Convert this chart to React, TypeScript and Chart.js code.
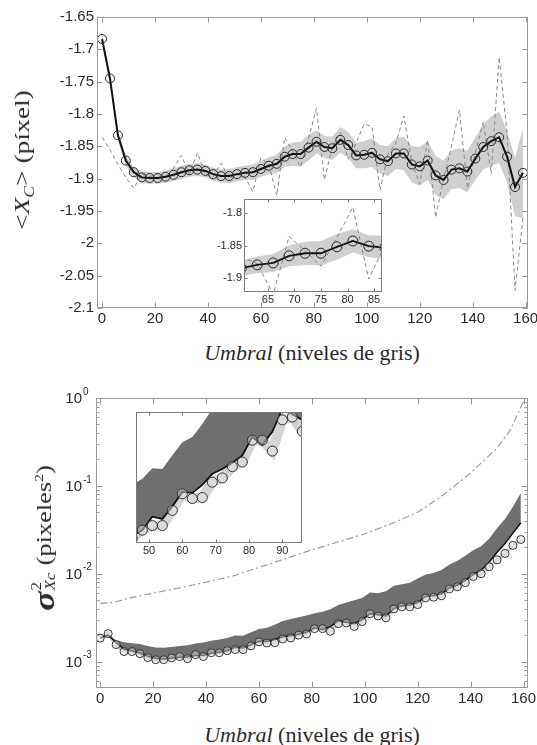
import React, { useEffect, useRef } from 'react';
import { Chart, registerables } from 'chart.js';

Chart.register(...registerables);

// ---------- data ----------
const umbral = [0, 3, 6, 9, 12, 15, 18, 21, 24, 27, 30, 33, 36, 39, 42, 45, 48, 51, 54, 57, 60, 63, 66, 69, 72, 75, 78, 81, 84, 87, 90, 93, 96, 99, 102, 105, 108, 111, 114, 117, 120, 123, 126, 129, 132, 135, 138, 141, 144, 147, 150, 153, 156, 159];

// top panel: mean <Xc>
const meanXc = [-1.684, -1.745, -1.833, -1.872, -1.890, -1.898, -1.899, -1.899, -1.897, -1.894, -1.890, -1.887, -1.886, -1.888, -1.893, -1.896, -1.896, -1.893, -1.891, -1.890, -1.885, -1.880, -1.877, -1.866, -1.862, -1.862, -1.852, -1.843, -1.851, -1.853, -1.840, -1.848, -1.864, -1.863, -1.860, -1.870, -1.873, -1.861, -1.861, -1.878, -1.881, -1.872, -1.895, -1.902, -1.886, -1.884, -1.889, -1.869, -1.851, -1.842, -1.836, -1.866, -1.913, -1.891];
// top panel: single-image (dashed) estimate
const rawXc = [-1.836, -1.855, -1.878, -1.898, -1.915, -1.893, -1.897, -1.892, -1.897, -1.884, -1.864, -1.893, -1.860, -1.893, -1.897, -1.876, -1.900, -1.893, -1.898, -1.920, -1.868, -1.878, -1.926, -1.836, -1.858, -1.882, -1.838, -1.791, -1.902, -1.850, -1.828, -1.870, -1.845, -1.815, -1.820, -1.918, -1.862, -1.845, -1.803, -1.875, -1.908, -1.840, -1.960, -1.900, -1.850, -1.794, -1.915, -1.860, -1.812, -1.892, -1.712, -1.830, -2.073, -1.960];
// top panel: half width of grey band
const bandHalf = [0.006, 0.006, 0.007, 0.008, 0.008, 0.009, 0.009, 0.009, 0.009, 0.010, 0.010, 0.010, 0.010, 0.010, 0.010, 0.010, 0.011, 0.011, 0.011, 0.012, 0.012, 0.013, 0.014, 0.016, 0.018, 0.019, 0.020, 0.018, 0.017, 0.018, 0.020, 0.020, 0.020, 0.021, 0.022, 0.022, 0.023, 0.024, 0.026, 0.028, 0.030, 0.030, 0.030, 0.030, 0.030, 0.031, 0.032, 0.033, 0.035, 0.038, 0.040, 0.040, 0.045, 0.070];

// bottom panel: variance (circles)
const varPoints = [1.85e-3, 2.08e-3, 1.56e-3, 1.30e-3, 1.30e-3, 1.23e-3, 1.11e-3, 1.05e-3, 1.05e-3, 1.10e-3, 1.14e-3, 1.08e-3, 1.20e-3, 1.14e-3, 1.26e-3, 1.26e-3, 1.33e-3, 1.37e-3, 1.37e-3, 1.51e-3, 1.68e-3, 1.63e-3, 1.64e-3, 1.81e-3, 1.86e-3, 2.00e-3, 2.06e-3, 2.37e-3, 2.37e-3, 2.21e-3, 2.70e-3, 2.75e-3, 2.51e-3, 2.85e-3, 3.50e-3, 3.30e-3, 3.15e-3, 3.97e-3, 4.20e-3, 4.20e-3, 4.45e-3, 5.30e-3, 5.40e-3, 5.60e-3, 6.70e-3, 7.10e-3, 7.90e-3, 9.30e-3, 1.00e-2, 1.20e-2, 1.44e-2, 1.70e-2, 2.10e-2, 2.45e-2];
// bottom panel: black line
const varLine = [1.85e-3, 2.00e-3, 1.65e-3, 1.38e-3, 1.32e-3, 1.25e-3, 1.15e-3, 1.08e-3, 1.07e-3, 1.09e-3, 1.12e-3, 1.13e-3, 1.17e-3, 1.18e-3, 1.24e-3, 1.28e-3, 1.33e-3, 1.45e-3, 1.43e-3, 1.55e-3, 1.70e-3, 1.69e-3, 1.78e-3, 1.91e-3, 1.97e-3, 2.05e-3, 2.15e-3, 2.42e-3, 2.30e-3, 2.50e-3, 2.90e-3, 2.80e-3, 2.70e-3, 3.00e-3, 3.50e-3, 3.40e-3, 3.30e-3, 4.00e-3, 4.30e-3, 4.40e-3, 4.70e-3, 5.50e-3, 5.60e-3, 5.90e-3, 6.90e-3, 7.40e-3, 8.40e-3, 9.80e-3, 1.10e-2, 1.35e-2, 1.75e-2, 2.20e-2, 2.90e-2, 3.80e-2];
// bottom panel: upper edge of dark band
const varUpper = [1.85e-3, 2.00e-3, 1.75e-3, 1.66e-3, 1.62e-3, 1.58e-3, 1.50e-3, 1.45e-3, 1.44e-3, 1.46e-3, 1.50e-3, 1.53e-3, 1.60e-3, 1.65e-3, 1.72e-3, 1.78e-3, 1.85e-3, 1.98e-3, 1.97e-3, 2.15e-3, 2.34e-3, 2.42e-3, 2.63e-3, 2.90e-3, 3.05e-3, 3.20e-3, 3.35e-3, 3.55e-3, 3.70e-3, 3.95e-3, 4.40e-3, 4.70e-3, 5.00e-3, 5.30e-3, 6.10e-3, 6.00e-3, 6.30e-3, 7.30e-3, 7.60e-3, 7.90e-3, 8.80e-3, 9.80e-3, 1.02e-2, 1.10e-2, 1.27e-2, 1.40e-2, 1.60e-2, 1.85e-2, 2.05e-2, 2.50e-2, 3.30e-2, 4.20e-2, 5.80e-2, 8.30e-2];
// bottom panel: dash-dot reference curve
const refX = [0, 5, 10, 20, 30, 40, 50, 60, 70, 80, 90, 100, 110, 120, 130, 140, 150, 155, 160];
const refVar = [4.6e-3, 4.7e-3, 5.2e-3, 6.0e-3, 6.9e-3, 8.0e-3, 9.4e-3, 1.18e-2, 1.48e-2, 1.87e-2, 2.3e-2, 2.85e-2, 3.7e-2, 5.0e-2, 8.0e-2, 0.14, 0.27, 0.43, 0.92];

// ticks
const xTicks = [0, 20, 40, 60, 80, 100, 120, 140, 160];
const topYTicks = [-2.1, -2.05, -2, -1.95, -1.9, -1.85, -1.8, -1.75, -1.7, -1.65];
const topInsetXTicks = [65, 70, 75, 80, 85];
const topInsetYTicks = [-1.9, -1.85, -1.8];
const botYTicks = [0.001, 0.01, 0.1, 1];
const botInsetXTicks = [50, 60, 70, 80, 90];

// ---------- helpers ----------
const SANS = '"Liberation Sans", Arial, sans-serif';
const SERIF = '"Liberation Serif", "Times New Roman", serif';

const pts = (xs: number[], ys: number[]) => xs.map((x, i) => ({ x, y: ys[i] }));

const framePlugin = {
  id: 'frame',
  beforeDraw(chart: any, _a: any, o: any) {
    if (o && o.bg) {
      const { ctx, chartArea: a } = chart;
      ctx.save();
      ctx.fillStyle = '#ffffff';
      ctx.fillRect(a.left, a.top, a.right - a.left, a.bottom - a.top);
      ctx.restore();
    }
  },
  afterDraw(chart: any, _a: any, o: any) {
    const { ctx, chartArea: a, scales } = chart;
    const xS = scales.x;
    const yS = scales.y;
    ctx.save();
    ctx.strokeStyle = o.color || '#999';
    ctx.lineWidth = 1;
    const L = Math.round(a.left) + 0.5;
    const R = Math.round(a.right) - 0.5;
    const T = Math.round(a.top) + 0.5;
    const B = Math.round(a.bottom) - 0.5;
    ctx.strokeRect(L, T, R - L, B - T);
    const tl = o.tick || 5;
    ctx.beginPath();
    for (const t of xS.ticks) {
      const p = Math.round(xS.getPixelForValue(t.value)) + 0.5;
      ctx.moveTo(p, B); ctx.lineTo(p, B - tl);
      ctx.moveTo(p, T); ctx.lineTo(p, T + tl);
    }
    if (!o.noY) {
      for (const t of yS.ticks) {
        const p = Math.round(yS.getPixelForValue(t.value)) + 0.5;
        ctx.moveTo(L, p); ctx.lineTo(L + tl, p);
        ctx.moveTo(R, p); ctx.lineTo(R - tl, p);
      }
    }
    if (o.minor) {
      for (let k = -5; k <= 0; k++) {
        for (let m = 2; m <= 9; m++) {
          const v = m * Math.pow(10, k);
          if (v <= yS.min || v >= yS.max) continue;
          const p = Math.round(yS.getPixelForValue(v)) + 0.5;
          ctx.moveTo(L, p); ctx.lineTo(L + 3, p);
          ctx.moveTo(R, p); ctx.lineTo(R - 3, p);
        }
      }
    }
    ctx.stroke();
    if (o.logLabels) {
      ctx.fillStyle = '#2a2a2a';
      for (const t of yS.ticks) {
        const p = yS.getPixelForValue(t.value);
        const e = Math.round(Math.log10(t.value));
        ctx.font = `15px ${SANS}`;
        ctx.textAlign = 'right';
        ctx.textBaseline = 'middle';
        ctx.fillText('10', a.left - 14, p + 1);
        ctx.font = `10px ${SANS}`;
        ctx.textAlign = 'left';
        ctx.fillText(String(e), a.left - 13, p - 6);
      }
    }
    ctx.restore();
  },
};

function axis(type: string, min: number, max: number, tickVals: number[], size: number, fontSize: number, isX: boolean, showLabels: boolean, pad: number) {
  return {
    type,
    min,
    max,
    afterBuildTicks: (s: any) => { s.ticks = tickVals.map((v) => ({ value: v })); },
    afterFit: (s: any) => { if (isX) s.height = size; else s.width = size; },
    grid: { display: false, drawTicks: false },
    border: { display: false },
    ticks: {
      display: showLabels,
      autoSkip: false,
      maxRotation: 0,
      minRotation: 0,
      padding: pad,
      color: '#2a2a2a',
      font: { family: SANS, size: fontSize },
      callback: (v: any) => String(v),
    },
  };
}

function baseOptions(padTop: number, padRight: number, x: any, y: any, frame: any) {
  return {
    responsive: false,
    animation: false,
    devicePixelRatio: 1,
    events: [],
    layout: { padding: { top: padTop, right: padRight, left: 0, bottom: 0 } },
    plugins: { legend: { display: false }, tooltip: { enabled: false }, frame },
    scales: { x, y },
  };
}

function topDatasets(inset: boolean) {
  return [
    { data: pts(umbral, meanXc.map((m, i) => m + bandHalf[i])), borderWidth: 0, pointRadius: 0, fill: '+1', backgroundColor: '#cfcfcf', order: 10 },
    { data: pts(umbral, meanXc.map((m, i) => m - bandHalf[i])), borderWidth: 0, pointRadius: 0, fill: false, order: 11 },
    { data: pts(umbral, rawXc), borderColor: '#888888', borderWidth: 1, borderDash: [4, 3], pointRadius: 0, fill: false, order: 5 },
    { data: pts(umbral, meanXc), borderColor: '#111111', borderWidth: inset ? 1.8 : 2, pointRadius: inset ? 5 : 4.5, pointBorderColor: '#2a2a2a', pointBackgroundColor: 'rgba(0,0,0,0)', pointBorderWidth: 1, fill: false, order: 1 },
  ];
}

function botDatasets(inset: boolean) {
  return [
    { data: pts(umbral, varUpper), borderWidth: 0, pointRadius: 0, fill: '+1', backgroundColor: '#6f6f6f', order: 10 },
    { data: pts(umbral, varLine), borderColor: '#111111', borderWidth: inset ? 1.8 : 1.5, pointRadius: 0, fill: false, order: 2 },
    { data: pts(umbral, varPoints), borderColor: '#d4d4d4', borderWidth: inset ? 10 : 4, pointRadius: 0, fill: false, order: 12 },
    { data: pts(umbral, varPoints), showLine: false, pointRadius: inset ? 5 : 4, pointBorderColor: '#333333', pointBackgroundColor: 'rgba(230,230,230,0.45)', pointBorderWidth: 1, fill: false, order: 1 },
    { data: pts(refX, refVar), borderColor: '#9a9a9a', borderWidth: 1.2, borderDash: [7, 3, 2, 3], pointRadius: 0, fill: false, order: 5 },
  ];
}

export default function App() {
  const topRef = useRef<HTMLCanvasElement>(null);
  const topInsetRef = useRef<HTMLCanvasElement>(null);
  const botRef = useRef<HTMLCanvasElement>(null);
  const botInsetRef = useRef<HTMLCanvasElement>(null);

  useEffect(() => {
    const charts: Chart[] = [];
    charts.push(new Chart(topRef.current as HTMLCanvasElement, {
      type: 'line',
      data: { datasets: topDatasets(false) as any },
      options: baseOptions(17, 32,
        axis('linear', -1.9, 160.9, xTicks, 22, 15, true, true, 2),
        axis('linear', -2.1, -1.65, topYTicks, 97, 15, false, true, 3),
        { color: '#9a9a9a', tick: 5 }) as any,
      plugins: [framePlugin as any],
    }));
    charts.push(new Chart(topInsetRef.current as HTMLCanvasElement, {
      type: 'line',
      data: { datasets: topDatasets(true) as any },
      options: baseOptions(10, 10,
        axis('linear', 60.5, 86.5, topInsetXTicks, 16, 11, true, true, 1),
        axis('linear', -1.922, -1.778, topInsetYTicks, 34, 11, false, true, 2),
        { color: '#7a7a7a', tick: 3, bg: true }) as any,
      plugins: [framePlugin as any],
    }));
    charts.push(new Chart(botRef.current as HTMLCanvasElement, {
      type: 'line',
      data: { datasets: botDatasets(false) as any },
      options: baseOptions(28, 32,
        axis('linear', -1.6, 161.7, xTicks, 22, 15, true, true, 2),
        axis('logarithmic', 5e-4, 1, botYTicks, 96, 15, false, false, 3),
        { color: '#9a9a9a', tick: 6, minor: true, logLabels: true }) as any,
      plugins: [framePlugin as any],
    }));
    charts.push(new Chart(botInsetRef.current as HTMLCanvasElement, {
      type: 'line',
      data: { datasets: botDatasets(true) as any },
      options: baseOptions(10, 10,
        axis('linear', 46.1, 95.9, botInsetXTicks, 19, 11, true, true, 1),
        axis('logarithmic', 1.225e-3, 2.84e-3, [0.002], 4, 11, false, false, 0),
        { color: '#7a7a7a', tick: 3, bg: true, noY: true }) as any,
      plugins: [framePlugin as any],
    }));
    return () => { charts.forEach((c) => c.destroy()); };
  }, []);

  const abs = (left: number, top: number, w: number, h: number): React.CSSProperties => ({ position: 'absolute', left, top, width: w, height: h });

  return (
    <div style={{ position: 'absolute', left: 0, top: 0, width: 537, height: 745, overflow: 'hidden', background: '#fff' }}>
      <canvas ref={topRef} width={560} height={330} style={abs(0, 0, 560, 330)} />
      <canvas ref={topInsetRef} width={182} height={119} style={abs(210, 189, 182, 119)} />
      <canvas ref={botRef} width={560} height={340} style={abs(0, 370, 560, 340)} />
      <canvas ref={botInsetRef} width={182} height={160} style={abs(130, 402, 182, 160)} />

      <div style={{ position: 'absolute', left: 22, top: 160, transform: 'translate(-50%,-50%) rotate(-90deg) scaleX(1.25)', whiteSpace: 'nowrap', font: `22px ${SERIF}`, color: '#2a2a2a', lineHeight: '24px' }}>
        &lt;<i>X</i><sub style={{ fontSize: 14, fontStyle: 'italic', lineHeight: 0 }}>C</sub>&gt; (píxel)
      </div>
      <div style={{ position: 'absolute', left: 312, top: 353, transform: 'translate(-50%,-50%)', whiteSpace: 'nowrap', font: `22px ${SERIF}`, color: '#2a2a2a' }}>
        <i>Umbral</i> (niveles de gris)
      </div>

      <div style={{ position: 'absolute', left: 44, top: 538, transform: 'translate(-50%,-50%) rotate(-90deg) scaleX(1.2)', whiteSpace: 'nowrap', font: `22px ${SERIF}`, color: '#2a2a2a', lineHeight: '30px', display: 'flex', alignItems: 'center' }}>
        <span style={{ fontWeight: 'bold', fontStyle: 'italic', fontSize: 30 }}>σ</span>
        <span style={{ display: 'inline-flex', flexDirection: 'column', fontSize: 14, lineHeight: '14px', marginLeft: 1 }}>
          <span>2</span>
          <span style={{ fontStyle: 'italic' }}>Xc</span>
        </span>
        <span style={{ marginLeft: 6 }}>(pixeles<sup style={{ fontSize: 13, lineHeight: 0 }}>2</sup>)</span>
      </div>
      <div style={{ position: 'absolute', left: 312, top: 735, transform: 'translate(-50%,-50%)', whiteSpace: 'nowrap', font: `22px ${SERIF}`, color: '#2a2a2a' }}>
        <i>Umbral</i> (niveles de gris)
      </div>
    </div>
  );
}
